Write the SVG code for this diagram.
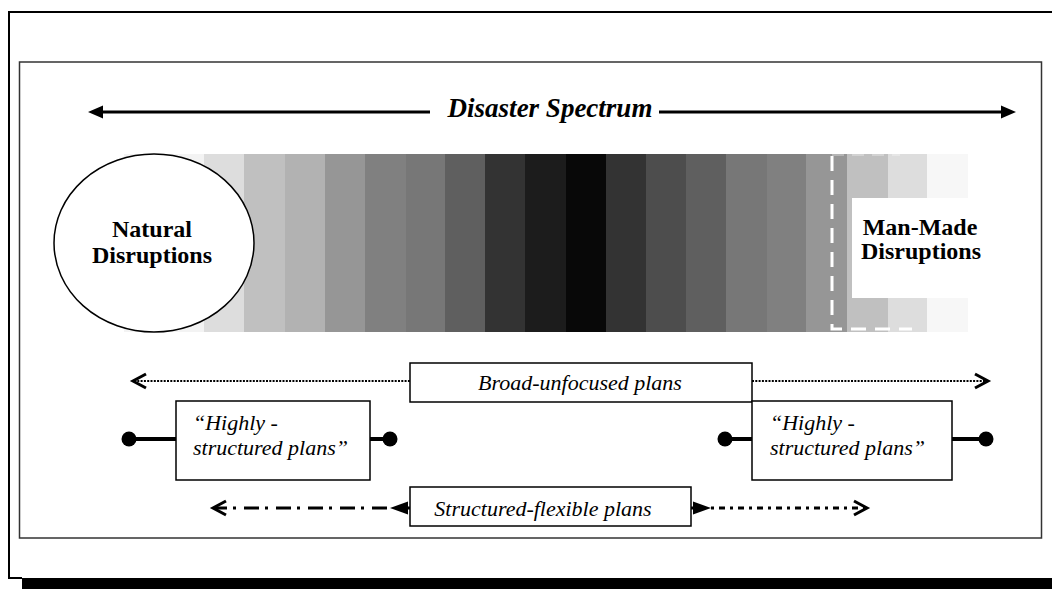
<svg xmlns="http://www.w3.org/2000/svg" width="1052" height="589" viewBox="0 0 1052 589">
<style>
.bold{font-family:"Liberation Serif","Times New Roman",serif;font-weight:bold;font-size:24px;fill:#000}
.title{font-family:"Liberation Serif","Times New Roman",serif;font-weight:bold;font-style:italic;font-size:27px;fill:#000}
.ital{font-family:"Liberation Serif","Times New Roman",serif;font-style:italic;font-size:22px;fill:#000}
.box{fill:#fff;stroke:#000;stroke-width:1.5}
.thick{stroke:#000;stroke-width:4}
.chev{fill:none;stroke:#000;stroke-width:3;stroke-linejoin:miter}
</style>
<rect width="1052" height="589" fill="#fff"/>
<!-- frames -->
<path d="M1052,12 H9 V578 H22" fill="none" stroke="#000" stroke-width="2"/>
<rect x="22" y="578" width="1030" height="11" fill="#000"/>
<rect x="19.5" y="62" width="1022" height="476" fill="none" stroke="#333" stroke-width="1.5"/>

<!-- spectrum strip -->
<g id="spectrum">
<rect x="124" y="154" width="80" height="178" fill="#f3f3f3"/>
<rect x="204" y="154" width="40" height="178" fill="#dddddd"/>
<rect x="244" y="154" width="41" height="178" fill="#c0c0c0"/>
<rect x="285" y="154" width="40" height="178" fill="#b2b2b2"/>
<rect x="325" y="154" width="40" height="178" fill="#969696"/>
<rect x="365" y="154" width="41" height="178" fill="#808080"/>
<rect x="406" y="154" width="39" height="178" fill="#777777"/>
<rect x="445" y="154" width="40" height="178" fill="#5f5f5f"/>
<rect x="485" y="154" width="40" height="178" fill="#333333"/>
<rect x="525" y="154" width="41" height="178" fill="#1c1c1c"/>
<rect x="566" y="154" width="40" height="178" fill="#080808"/>
<rect x="606" y="154" width="40" height="178" fill="#333333"/>
<rect x="646" y="154" width="40" height="178" fill="#4d4d4d"/>
<rect x="686" y="154" width="40" height="178" fill="#5f5f5f"/>
<rect x="726" y="154" width="41" height="178" fill="#777777"/>
<rect x="767" y="154" width="39" height="178" fill="#808080"/>
<rect x="806" y="154" width="41" height="178" fill="#969696"/>
<rect x="847" y="154" width="41" height="178" fill="#c0c0c0"/>
<rect x="888" y="154" width="39" height="178" fill="#dddddd"/>
<rect x="927" y="154" width="41" height="178" fill="#f7f7f7"/>
<path d="M832,155 H900" fill="none" stroke="#fff" stroke-width="2" stroke-dasharray="12 8" opacity="0.3"/>
<path d="M832,156 V329 H912" fill="none" stroke="#fff" stroke-width="3" stroke-dasharray="15 9"/>
</g>

<g id="title">
<text x="550" y="117" class="title" text-anchor="middle">Disaster Spectrum</text>
</g>

<g id="natural">
<ellipse cx="154" cy="243" rx="100" ry="89" fill="#fff" stroke="#000" stroke-width="1.5"/>
<text class="bold" text-anchor="middle"><tspan x="152" y="237">Natural</tspan><tspan x="152" y="263">Disruptions</tspan></text>
</g>

<g id="manmade">
<rect x="852" y="198" width="140" height="100" fill="#fff"/>
<text class="bold" text-anchor="middle"><tspan x="920" y="235">Man-Made</tspan><tspan x="921" y="259">Disruptions</tspan></text>
</g>

<g id="connectors">
<line x1="100" y1="112" x2="430" y2="112" stroke="#000" stroke-width="3"/>
<line x1="659" y1="112" x2="1004" y2="112" stroke="#000" stroke-width="3"/>
<polygon points="88,112 103,105.5 103,118.5" fill="#000"/>
<polygon points="1016,112 1001,105.5 1001,118.5" fill="#000"/>
<line x1="134" y1="381" x2="410" y2="381" stroke="#000" stroke-width="2" stroke-dasharray="2 1.3"/>
<line x1="752" y1="381" x2="987" y2="381" stroke="#000" stroke-width="2" stroke-dasharray="2 1.3"/>
<polyline class="chev" points="146,374 133,381 146,388"/>
<polyline class="chev" points="975,374 988,381 975,388"/>
<line class="thick" x1="129" y1="439" x2="176" y2="439"/>
<line class="thick" x1="370" y1="439" x2="390" y2="439"/>
<circle cx="129" cy="439" r="7.5" fill="#000"/>
<circle cx="390" cy="439" r="7.5" fill="#000"/>
<line class="thick" x1="725" y1="439" x2="752" y2="439"/>
<line class="thick" x1="952" y1="439" x2="986" y2="439"/>
<circle cx="725" cy="439" r="7.5" fill="#000"/>
<circle cx="986" cy="439" r="7.5" fill="#000"/>
<line x1="216" y1="508" x2="392" y2="508" stroke="#000" stroke-width="3" stroke-dasharray="15 6 3 8" stroke-dashoffset="4"/>
<polygon points="390,508 408,501.5 408,514.5" fill="#000"/>
<line x1="408" y1="508" x2="410" y2="508" stroke="#000" stroke-width="3"/>
<polyline class="chev" points="226,501 213,508 226,515"/>
<line x1="691" y1="508" x2="695" y2="508" stroke="#000" stroke-width="3"/>
<polygon points="711,508 693,501.5 693,514.5" fill="#000"/>
<line x1="711" y1="508" x2="866" y2="508" stroke="#000" stroke-width="3" stroke-dasharray="3 5 6 5"/>
<polyline class="chev" points="854,501 867,508 854,515"/>
</g>

<g id="broad">
<rect class="box" x="410" y="363" width="342" height="39"/>
<text class="ital" x="580" y="390" text-anchor="middle">Broad-unfocused plans</text>
</g>
<g id="highly-left">
<rect class="box" x="176" y="401" width="194" height="79"/>
<text class="ital"><tspan x="193" y="430">“Highly -</tspan><tspan x="193" y="455">structured plans”</tspan></text>
</g>
<g id="highly-right">
<rect class="box" x="752" y="401" width="200" height="79"/>
<text class="ital"><tspan x="770" y="430">“Highly -</tspan><tspan x="770" y="455">structured plans”</tspan></text>
</g>
<g id="flexible">
<rect class="box" x="410" y="487" width="281" height="39"/>
<text class="ital" x="543" y="516" text-anchor="middle">Structured-flexible plans</text>
</g>
</svg>
